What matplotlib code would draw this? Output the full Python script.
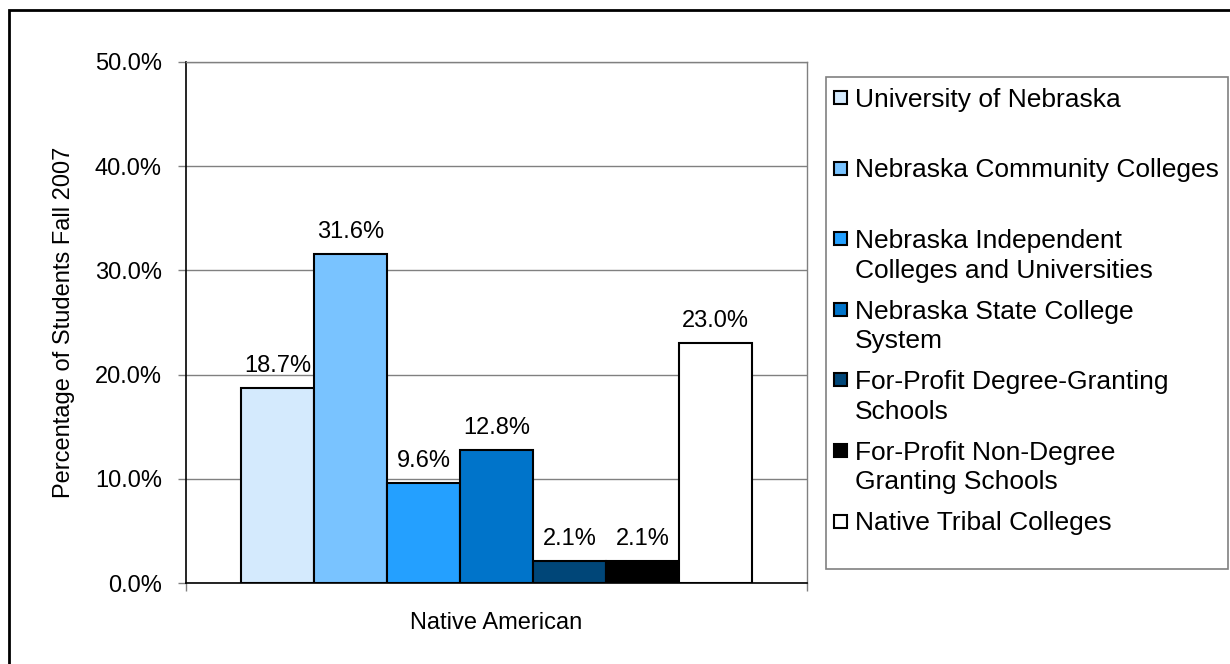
import matplotlib
matplotlib.use("Agg")
import matplotlib.pyplot as plt
from matplotlib.patches import Rectangle
from matplotlib.ticker import FuncFormatter

plt.rcParams['font.family'] = ['Liberation Sans', 'DejaVu Sans']

# data
group = "Native American"
sectors = [
    "University of Nebraska",
    "Nebraska Community Colleges",
    "Nebraska Independent\nColleges and Universities",
    "Nebraska State College\nSystem",
    "For-Profit Degree-Granting\nSchools",
    "For-Profit Non-Degree\nGranting Schools",
    "Native Tribal Colleges",
]
pct = [18.7, 31.6, 9.6, 12.8, 2.1, 2.1, 23.0]
colors = ["#D4EAFD", "#79C3FF", "#24A0FF", "#0074CA", "#004678", "#000000", "#FFFFFF"]
yticks = [0, 10, 20, 30, 40, 50]

W, H = 1230, 664
fig = plt.figure(figsize=(W / 100, H / 100), dpi=100)
ax = fig.add_axes([186 / W, 1 - 583 / H, (807 - 186) / W, (583 - 62) / H])

n = len(pct)
bw = (511 / 621) / n
xs = [(i - (n - 1) / 2) * bw for i in range(n)]
bars = ax.bar(xs, pct, width=bw, color=colors, edgecolor="black", linewidth=1.5, zorder=3)

for b, v in zip(bars, pct):
    ax.annotate(f"{v:.1f}%", (b.get_x() + b.get_width() / 2, b.get_height()),
                xytext=(0, 11.5), textcoords="offset points",
                ha="center", va="baseline", fontsize=17)

ax.set_xlim(-0.5, 0.5)
ax.set_ylim(0, 50)
ax.set_yticks(yticks)
ax.yaxis.set_major_formatter(FuncFormatter(lambda v, p: f"{v:.1f}%"))
ax.grid(axis="y", color="#808080", linewidth=1, zorder=0)
ax.tick_params(axis="y", length=5.8, width=1, color="#808080", pad=11.5, labelsize=17)

ax.set_xticks([-0.5, 0.5])
ax.set_xticklabels(["", ""])
ax.set_xticks([0], minor=True)
ax.set_xticklabels([group], minor=True)
ax.tick_params(axis="x", which="major", length=5.8, width=1, color="#808080")
ax.tick_params(axis="x", which="minor", length=0, pad=21, labelsize=17)

for s in ["top", "right"]:
    ax.spines[s].set_color("#808080")
    ax.spines[s].set_linewidth(1)
for s in ["left", "bottom"]:
    ax.spines[s].set_color("black")
    ax.spines[s].set_linewidth(1.2)

ax.set_ylabel("Percentage of Students Fall 2007", fontsize=17)
ax.yaxis.set_label_coords(-0.178, 0.5)

# legend drawn by hand so entries are evenly spaced like the original
def px(x, y):
    return x / W, 1 - y / H

lx0, ly0, lx1, ly1 = 826, 77, 1228, 569
x0, y0 = px(lx0, ly1)
fig.add_artist(Rectangle((x0, y0), (lx1 - lx0) / W, (ly1 - ly0) / H,
                         transform=fig.transFigure, facecolor="white",
                         edgecolor="#808080", linewidth=1.2))
first_y, step, line_h = 97.5, 70.6, 29.5
for i, (lab, c) in enumerate(zip(sectors, colors)):
    cy = first_y + i * step
    hx, hy = px(834, cy + 6.5)
    fig.add_artist(Rectangle((hx, hy), 13 / W, 13 / H, transform=fig.transFigure,
                             facecolor=c, edgecolor="black", linewidth=1.5))
    for j, line in enumerate(lab.split("\n")):
        tx, ty = px(855, cy + 9.4 + j * line_h)
        fig.text(tx, ty, line, ha="left", va="baseline", fontsize=19)

# outer frame (right and bottom run off the image)
fx, fy = px(9, 10)
fig.add_artist(Rectangle((fx, -0.1), 1.2, fy + 0.1, transform=fig.transFigure,
                         facecolor="none", edgecolor="black", linewidth=2))

fig.savefig("out.png", dpi=100)
